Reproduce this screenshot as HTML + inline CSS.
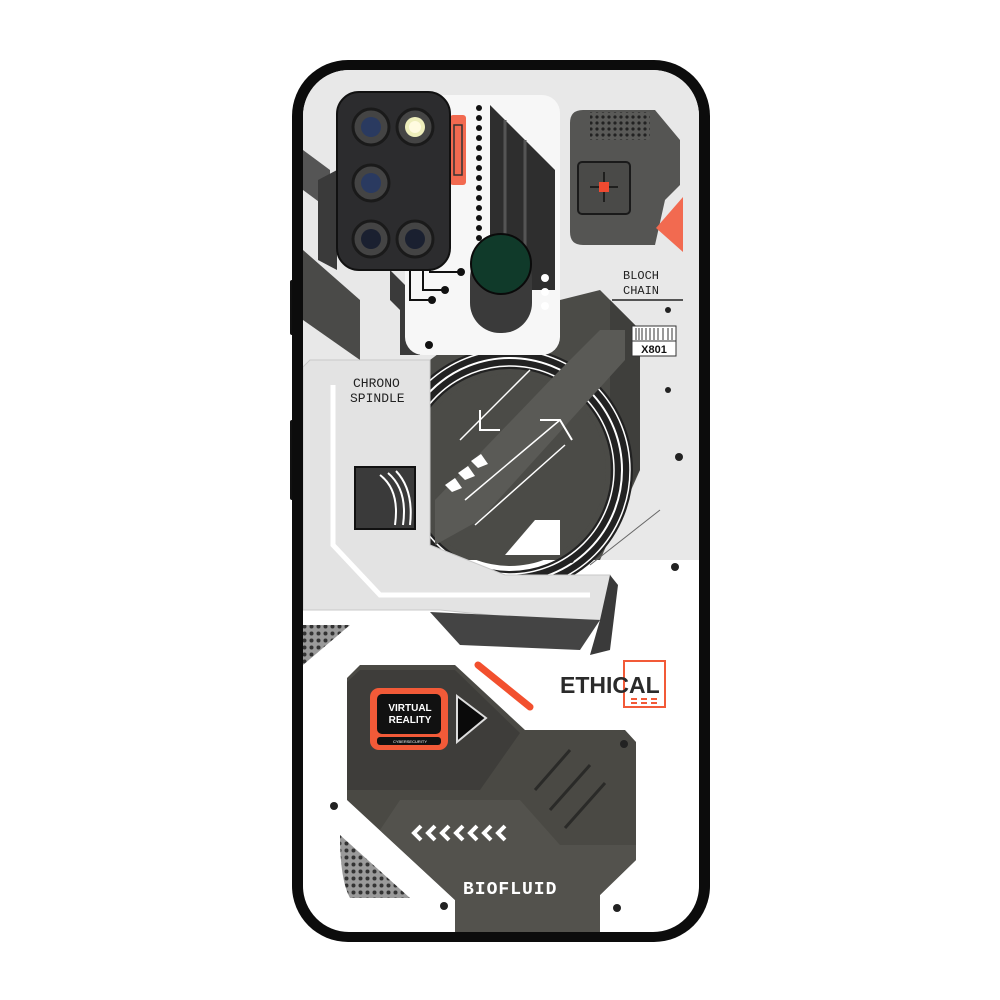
<!DOCTYPE html>
<html><head><meta charset="utf-8"><style>
html,body{margin:0;padding:0;background:#fff;width:1000px;height:1000px;overflow:hidden}
svg{display:block}
.m{font-family:"Liberation Mono",monospace}
.s{font-family:"Liberation Sans",sans-serif}
</style></head><body>
<svg width="1000" height="1000" viewBox="0 0 1000 1000" xmlns="http://www.w3.org/2000/svg">
<defs>
<clipPath id="in"><rect x="303" y="70" width="396" height="862" rx="46"/></clipPath>
<pattern id="dots" width="7" height="7" patternUnits="userSpaceOnUse"><rect width="7" height="7" fill="#9a9a9a"/><circle cx="3.5" cy="3.5" r="2" fill="#333"/></pattern>
<pattern id="grill" width="6" height="6" patternUnits="userSpaceOnUse"><rect width="6" height="6" fill="#5a5a58"/><circle cx="3" cy="3" r="1.6" fill="#222"/></pattern>
</defs>
<rect x="290" y="280" width="6" height="55" rx="2" fill="#111"/>
<rect x="290" y="420" width="6" height="80" rx="2" fill="#111"/>
<rect x="292" y="60" width="418" height="882" rx="56" fill="#0c0c0c"/>
<rect x="303" y="70" width="396" height="862" rx="46" fill="#fff"/>
<g clip-path="url(#in)">
<polygon points="303,70 699,70 699,560 600,560 303,560" fill="#e8e8e8"/>
<polygon points="303,250 360,300 360,360 303,320" fill="#4a4a48"/>
<polygon points="303,150 330,170 330,210 303,190" fill="#555"/>
<polygon points="318,180 337,170 337,270 318,260" fill="#3a3a3a"/>
<polygon points="390,270 420,300 420,355 400,355 400,310 390,300" fill="#3a3a3a"/>
<polygon points="470,330 560,300 600,290 640,330 640,470 600,560 430,560 430,360" fill="#4b4b47"/>
<polygon points="600,290 640,330 640,470 610,520 610,300" fill="#3f3f3c"/>
<circle cx="510" cy="470" r="112" fill="none" stroke="#222" stroke-width="22"/>
<circle cx="510" cy="470" r="112" fill="none" stroke="#fff" stroke-width="2"/>
<circle cx="510" cy="470" r="104" fill="none" stroke="#fff" stroke-width="1.5"/>
<circle cx="510" cy="470" r="120" fill="none" stroke="#fff" stroke-width="1.5"/>
<circle cx="510" cy="470" r="96" fill="#4b4b47"/>
<polygon points="435,500 560,370 600,330 625,330 625,360 480,520 435,545" fill="#5a5a56"/>
<line x1="460" y1="440" x2="530" y2="370" stroke="#fff" stroke-width="1.5"/>
<line x1="465" y1="500" x2="560" y2="420" stroke="#fff" stroke-width="1.5"/>
<line x1="475" y1="525" x2="565" y2="445" stroke="#fff" stroke-width="1.5"/>
<polyline points="540,420 560,420 572,440" fill="none" stroke="#fff" stroke-width="2"/>
<polyline points="480,410 480,430 500,430" fill="none" stroke="#fff" stroke-width="2"/>
<g fill="#fff"><polygon points="445,485 455,478 462,488 452,492"/><polygon points="458,473 468,466 475,476 465,480"/><polygon points="471,461 481,454 488,464 478,468"/></g>
<polygon points="505,555 535,520 560,520 560,555" fill="#fff"/>
<rect x="405" y="95" width="155" height="260" rx="18" fill="#f7f7f7"/>
<polygon points="490,105 555,170 555,290 490,290" fill="#2e2e2e"/>
<line x1="505" y1="120" x2="505" y2="290" stroke="#555" stroke-width="3"/>
<line x1="525" y1="140" x2="525" y2="290" stroke="#555" stroke-width="3"/>
<g fill="#111">
<circle cx="479" cy="108" r="3"/><circle cx="479" cy="118" r="3"/><circle cx="479" cy="128" r="3"/><circle cx="479" cy="138" r="3"/><circle cx="479" cy="148" r="3"/><circle cx="479" cy="158" r="3"/><circle cx="479" cy="168" r="3"/><circle cx="479" cy="178" r="3"/><circle cx="479" cy="188" r="3"/><circle cx="479" cy="198" r="3"/><circle cx="479" cy="208" r="3"/><circle cx="479" cy="218" r="3"/><circle cx="479" cy="228" r="3"/><circle cx="479" cy="238" r="3"/>
</g>
<g fill="#fff"><circle cx="545" cy="278" r="4"/><circle cx="545" cy="292" r="4"/><circle cx="545" cy="306" r="4"/></g>
<rect x="450" y="115" width="16" height="70" rx="3" fill="#f26a50"/>
<rect x="454" y="125" width="8" height="50" fill="none" stroke="#333" stroke-width="1.5"/>
<g stroke="#111" stroke-width="2" fill="none">
<polyline points="430,270 430,272 460,272"/><polyline points="423,270 423,290 445,290"/><polyline points="410,270 410,300 430,300"/>
</g>
<g fill="#111"><circle cx="461" cy="272" r="4"/><circle cx="445" cy="290" r="4"/><circle cx="432" cy="300" r="4"/><circle cx="429" cy="345" r="4"/></g>
<rect x="470" y="248" width="62" height="85" rx="30" fill="#3a3a3a"/>
<circle cx="501" cy="264" r="30" fill="#103a2a" stroke="#0a0a0a" stroke-width="2"/>
<rect x="337" y="92" width="113" height="178" rx="22" fill="#2c2c2e" stroke="#111" stroke-width="2"/>
<g stroke="#1a1a1a" stroke-width="3">
<circle cx="371" cy="127" r="18" fill="#444"/><circle cx="415" cy="127" r="18" fill="#444"/>
<circle cx="371" cy="183" r="18" fill="#444"/><circle cx="371" cy="239" r="18" fill="#444"/><circle cx="415" cy="239" r="18" fill="#444"/>
</g>
<circle cx="371" cy="127" r="10" fill="#2a3a60"/><circle cx="371" cy="183" r="10" fill="#2a3a60"/>
<circle cx="371" cy="239" r="10" fill="#1a2030"/><circle cx="415" cy="239" r="10" fill="#1a2030"/>
<circle cx="415" cy="127" r="10" fill="#eeeebb"/><circle cx="415" cy="127" r="6" fill="#fffbe0"/>
<path d="M583,110 L655,110 L680,140 L680,185 L665,200 L655,245 L583,245 Q570,245 570,232 L570,123 Q570,110 583,110Z" fill="#555553"/>
<rect x="590" y="112" width="60" height="28" fill="url(#grill)"/>
<rect x="578" y="162" width="52" height="52" rx="4" fill="#4a4a48" stroke="#1a1a1a" stroke-width="2"/>
<line x1="590" y1="187" x2="618" y2="187" stroke="#111" stroke-width="1.5"/><line x1="604" y1="172" x2="604" y2="202" stroke="#111" stroke-width="1.5"/>
<rect x="599" y="182" width="10" height="10" fill="#f04a30"/>
<polygon points="683,197 683,252 656,228" fill="#f26a50"/>
<text x="623" y="279" font-size="12" class="m" fill="#222">BLOCH</text>
<text x="623" y="294" font-size="12" class="m" fill="#222">CHAIN</text>
<line x1="612" y1="300" x2="683" y2="300" stroke="#222" stroke-width="1.5"/>
<rect x="632" y="326" width="44" height="15" fill="#fff" stroke="#333"/>
<g stroke="#333" stroke-width="1"><line x1="636" y1="328" x2="636" y2="340"/><line x1="639" y1="328" x2="639" y2="340"/><line x1="642" y1="328" x2="642" y2="340"/><line x1="646" y1="328" x2="646" y2="340"/><line x1="650" y1="328" x2="650" y2="340"/><line x1="654" y1="328" x2="654" y2="340"/><line x1="658" y1="328" x2="658" y2="340"/><line x1="663" y1="328" x2="663" y2="340"/><line x1="668" y1="328" x2="668" y2="340"/><line x1="672" y1="328" x2="672" y2="340"/></g>
<rect x="632" y="341" width="44" height="15" fill="#fff" stroke="#333"/>
<text x="654" y="353" font-size="11" font-weight="bold" text-anchor="middle" fill="#111" class="s">X801</text>
<g fill="#222"><circle cx="668" cy="310" r="3"/><circle cx="668" cy="390" r="3"/><circle cx="679" cy="457" r="4"/><circle cx="571" cy="560" r="3"/><circle cx="675" cy="567" r="4"/><circle cx="444" cy="906" r="4"/><circle cx="617" cy="908" r="4"/><circle cx="334" cy="806" r="4"/></g>
<path d="M310,360 L430,360 L430,545 L505,575 L610,575 L615,585 L608,620 L540,620 L440,610 L303,610 L303,367Z" fill="#e3e3e3" stroke="#c8c8c8"/>
<polyline points="333,385 333,545 380,595 590,595" fill="none" stroke="#fff" stroke-width="5"/>
<polygon points="610,575 618,585 610,650 590,655 600,620" fill="#3a3a3a"/>
<polygon points="430,612 600,620 580,650 460,645" fill="#444"/>
<text x="353" y="387" font-size="13" class="m" fill="#222">CHRONO</text>
<text x="350" y="402" font-size="13" class="m" fill="#222">SPINDLE</text>
<rect x="355" y="467" width="60" height="62" fill="#3a3a3a" stroke="#111" stroke-width="2"/>
<path d="M380,475 Q400,490 395,525 M388,473 Q408,490 403,525 M396,471 Q414,490 410,525" stroke="#fff" stroke-width="2" fill="none"/>
<line x1="590" y1="565" x2="660" y2="510" stroke="#666" stroke-width="1"/>
<polygon points="303,625 350,625 303,665" fill="url(#dots)"/>
<polygon points="360,665 455,665 525,730 625,730 636,742 636,860 600,895 600,932 455,932 455,900 347,800 347,678" fill="#4a4944"/>
<polygon points="360,670 455,670 520,733 480,790 347,790 347,682" fill="#3e3d3a"/>
<polygon points="400,800 520,800 560,845 636,845 636,860 600,895 600,932 455,932 455,900 380,830" fill="#53524d"/>
<g stroke="#2a2a28" stroke-width="3"><line x1="535" y1="790" x2="570" y2="750"/><line x1="550" y1="810" x2="590" y2="765"/><line x1="565" y1="828" x2="605" y2="783"/></g>
<circle cx="624" cy="744" r="4" fill="#222"/>
<rect x="370" y="688" width="78" height="62" rx="9" fill="#f25a38"/>
<rect x="377" y="694" width="64" height="40" rx="5" fill="#111"/>
<rect x="377" y="737" width="64" height="8" rx="3" fill="#111"/>
<text x="410" y="711" font-size="10" font-weight="bold" fill="#fff" text-anchor="middle" class="s">VIRTUAL</text>
<text x="410" y="723" font-size="10" font-weight="bold" fill="#fff" text-anchor="middle" class="s">REALITY</text>
<text x="410" y="743" font-size="4" fill="#fff" text-anchor="middle" class="s">CYBERSECURITY</text>
<polygon points="457,696 486,718 457,742" fill="#0a0a0a" stroke="#ddd" stroke-width="2"/>
<line x1="478" y1="665" x2="530" y2="707" stroke="#f2502e" stroke-width="7" stroke-linecap="round"/>
<g fill="none" stroke="#fff" stroke-width="4"><polyline points="421,826 414,833 421,840"/><polyline points="435,826 428,833 435,840"/><polyline points="449,826 442,833 449,840"/><polyline points="463,826 456,833 463,840"/><polyline points="477,826 470,833 477,840"/><polyline points="491,826 484,833 491,840"/><polyline points="505,826 498,833 505,840"/></g>
<text x="463" y="894" font-size="18" class="m" font-weight="bold" fill="#fff" letter-spacing="1">BIOFLUID</text>
<path d="M340,835 L410,898 L350,898 Q340,880 340,835Z" fill="url(#dots)"/>
<rect x="624" y="661" width="41" height="46" fill="none" stroke="#f25a38" stroke-width="2"/>
<text x="560" y="693" font-size="23" font-weight="bold" fill="#2a2a2a" class="s">ETHICAL</text>
<g fill="#f25a38"><rect x="631" y="698" width="6" height="2"/><rect x="641" y="698" width="6" height="2"/><rect x="651" y="698" width="6" height="2"/><rect x="631" y="702" width="6" height="2"/><rect x="641" y="702" width="6" height="2"/><rect x="651" y="702" width="6" height="2"/></g>
</g>
</svg>
</body></html>
